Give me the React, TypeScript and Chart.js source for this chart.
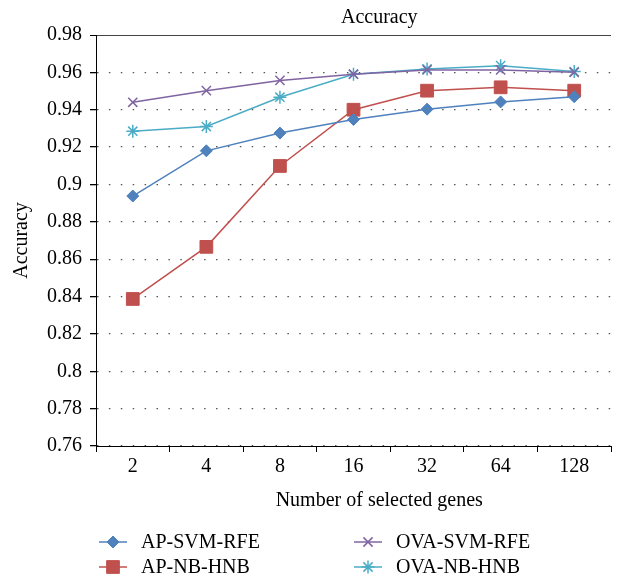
import React, { useEffect, useRef } from 'react';
import { Chart, registerables } from 'chart.js';
import { drawPoint } from 'chart.js/helpers';

Chart.register(...registerables);

const categories = ['2', '4', '8', '16', '32', '64', '128'];
const apSvmRfe = [0.8938, 0.918, 0.9275, 0.9348, 0.9403, 0.9442, 0.947];
const apNbHnb = [0.8387, 0.8666, 0.9099, 0.94, 0.9502, 0.952, 0.9502];
const ovaSvmRfe = [0.944, 0.9502, 0.9557, 0.959, 0.9613, 0.9613, 0.96];
const ovaNbHnb = [0.9285, 0.931, 0.9467, 0.959, 0.9618, 0.9636, 0.9604];
const seriesNames = ['AP-SVM-RFE', 'AP-NB-HNB', 'OVA-SVM-RFE', 'OVA-NB-HNB'];
const yMin = 0.76;
const yMax = 0.98;
const yStep = 0.02;

const chartTitle = 'Accuracy';
const yTitle = 'Accuracy';
const xTitle = 'Number of selected genes';

const FONT = "'Liberation Serif', 'Times New Roman', serif";
const COLORS = ['#4F81BD', '#C0504D', '#8064A2', '#4BACC6'];
const STYLES = ['rectRot', 'rect', 'crossRot', 'star'];
const RADII = [6, 9, 6.5, 6.5];

const isTop = (c: any) => !!(c && c.tick && c.tick.value >= yMax - 1e-6);

const overlayPlugin = {
  id: 'overlay',
  afterDraw(chart: any) {
    const { ctx, chartArea } = chart;
    ctx.save();
    ctx.fillStyle = '#000';
    ctx.font = `20px ${FONT}`;
    ctx.textAlign = 'center';
    ctx.textBaseline = 'alphabetic';
    const cx = chartArea.left + chartArea.width * 0.55;
    ctx.fillText(chartTitle, cx, 23);
    ctx.fillText(xTitle, cx, 506);

    const colX = [99, 354];
    const rowY = [542, 567];
    chart.data.datasets.forEach((ds: any, i: number) => {
      const col = i < 2 ? 0 : 1;
      const row = i % 2;
      const x0 = colX[col];
      const y = rowY[row];
      ctx.setLineDash([]);
      ctx.strokeStyle = ds.borderColor;
      ctx.lineWidth = 1.5;
      ctx.beginPath();
      ctx.moveTo(x0, y);
      ctx.lineTo(x0 + 28, y);
      ctx.stroke();
      ctx.fillStyle = ds.pointBackgroundColor;
      ctx.strokeStyle = ds.pointBorderColor;
      ctx.lineWidth = ds.pointBorderWidth;
      drawPoint(ctx, {
        pointStyle: ds.pointStyle,
        radius: ds.pointRadius,
        rotation: 0,
        borderWidth: ds.pointBorderWidth,
      } as any, x0 + 14, y);
      ctx.fillStyle = '#000';
      ctx.textAlign = 'left';
      ctx.textBaseline = 'middle';
      ctx.font = `20px ${FONT}`;
      ctx.fillText(ds.label, x0 + 42, y + 1);
    });
    ctx.restore();
  },
};

export default function App() {
  const ref = useRef<HTMLCanvasElement>(null);
  useEffect(() => {
    if (!ref.current) return;
    const data = [apSvmRfe, apNbHnb, ovaSvmRfe, ovaNbHnb];
    const chart = new Chart(ref.current, {
      type: 'line',
      data: {
        labels: categories,
        datasets: data.map((d, i) => ({
          label: seriesNames[i],
          data: d,
          borderColor: COLORS[i],
          backgroundColor: COLORS[i],
          pointBackgroundColor: COLORS[i],
          pointBorderColor: COLORS[i],
          pointStyle: STYLES[i] as any,
          pointRadius: RADII[i],
          pointBorderWidth: i >= 2 ? 1.5 : 1,
          borderWidth: 1.5,
          tension: 0,
          fill: false,
        })),
      },
      options: {
        animation: false,
        responsive: true,
        maintainAspectRatio: false,
        layout: { padding: { top: 35, right: 8, left: 0, bottom: 0 } },
        plugins: {
          legend: { display: false },
          title: { display: false },
          tooltip: { enabled: false },
        },
        scales: {
          x: {
            type: 'category',
            offset: true,
            afterFit: (s: any) => { s.height = 133; },
            grid: {
              offset: true,
              drawOnChartArea: false,
              drawTicks: true,
              tickLength: 6,
              color: '#000',
              tickColor: '#000',
            },
            border: { display: true, color: '#000', width: 1 },
            ticks: {
              color: '#000',
              font: { family: FONT, size: 20 },
              padding: 3,
            },
          },
          y: {
            min: yMin,
            max: yMax,
            afterFit: (s: any) => { s.width = 96; },
            ticks: {
              stepSize: yStep,
              color: '#000',
              font: { family: FONT, size: 20 },
              padding: 8,
              callback: (v: any) => String(Number(Number(v).toFixed(2))),
            },
            grid: {
              drawOnChartArea: true,
              drawTicks: true,
              tickLength: 6,
              tickColor: '#000',
              tickBorderDash: [],
              lineWidth: (c: any) => (isTop(c) ? 1 : 1.3),
              color: (c: any) => (isTop(c) ? '#444' : '#555'),
            } as any,
            border: {
              display: true,
              color: '#000',
              width: 1,
              dash: (c: any) => (c && c.tick && !isTop(c) ? [1.5, 10.4] : []),
            } as any,
            title: {
              display: true,
              text: yTitle,
              color: '#000',
              font: { family: FONT, size: 20 },
              padding: { top: 10, bottom: 0 },
            },
          },
        },
      },
      plugins: [overlayPlugin],
    });
    return () => chart.destroy();
  }, []);

  return (
    <div style={{ position: 'absolute', left: 0, top: 0, width: 621, height: 579, background: '#fff' }}>
      <canvas ref={ref} />
    </div>
  );
}
